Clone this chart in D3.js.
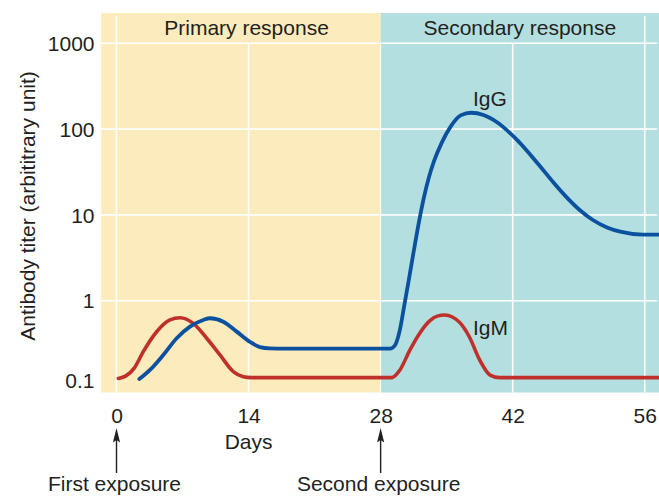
<!DOCTYPE html>
<html>
<head>
<meta charset="utf-8">
<script src="https://cdn.jsdelivr.net/npm/d3@7"></script>
<style>
  html, body { margin: 0; padding: 0; background: #ffffff; }
  svg { display: block; font-family: "Liberation Sans", Arial, Helvetica, sans-serif; }
</style>
</head>
<body>
<svg id="chart" width="659" height="496"></svg>
<script>
// Antibody titer over time: primary and secondary immune response
const dayTicks = [0, 14, 28, 42, 56];
const titerTicks = [0.1, 1, 10, 100, 1000];
const phaseLabels = ["Primary response", "Secondary response"];
const exposureLabels = ["First exposure", "Second exposure"];
const exposureDays = [0, 28];

// IgM titer (days, titer)
const igmDays  = [0.2, 1.0, 1.9, 2.84, 4.26, 5.67, 6.73, 8.14, 9.56, 10.97, 12.38, 13.44, 14.3, 21.0,
                  29.2, 30.05, 31.1, 32.2, 33.2, 34.0, 34.8, 35.6, 36.4, 37.4, 38.5, 39.6, 40.6, 49.0, 58.8];
const igmTiter = [0.124, 0.133, 0.165, 0.255, 0.435, 0.596, 0.634, 0.545, 0.365, 0.233, 0.149, 0.130, 0.127, 0.127,
                  0.127, 0.156, 0.266, 0.427, 0.582, 0.661, 0.681, 0.646, 0.555, 0.38, 0.204, 0.136, 0.127, 0.127, 0.127];

// IgG titer (days, titer)
const iggDays  = [2.42, 3.55, 4.96, 6.38, 7.79, 9.2, 9.91, 11.32, 12.74, 14.15, 15.21, 16.27, 17.0, 23.0,
                  29.0, 29.5, 30.0, 30.5, 31.0, 31.5, 32.05, 32.58, 33.1, 33.64, 34.47, 35.42, 36.48, 37.6, 38.9,
                  40.3, 42.25, 44.9, 46.3, 47.7, 49.1, 50.5, 52.0, 53.4, 55.8, 58.8];
const iggTiter = [0.122, 0.156, 0.233, 0.365, 0.498, 0.596, 0.624, 0.569, 0.436, 0.331, 0.288, 0.278, 0.277, 0.277,
                  0.277, 0.3, 0.436, 0.87, 1.78, 3.72, 8.13, 15.8, 26.9, 41.7, 69.2, 107, 144.5, 155, 146,
                  121, 79, 36.9, 24.0, 16.1, 11.4, 8.72, 7.15, 6.38, 5.9, 5.9];

const seriesNames = ["IgM", "IgG"];

const panel = { left: 101, top: 13, right: 659, bottom: 392.5 };
const textColor = "#231f20";
const fontSize = 21;

const svg = d3.select("#chart");

const x = d3.scaleLinear().domain([0, 56]).range([116.5, 644.75]);
const y = d3.scaleLog().domain([0.1, 1000]).range([386.5, 43.3]);

// Phase backgrounds
svg.append("rect")
  .attr("x", panel.left).attr("y", panel.top)
  .attr("width", x(28) - panel.left).attr("height", panel.bottom - panel.top)
  .attr("fill", "#fcebbc");
svg.append("rect")
  .attr("x", x(28)).attr("y", panel.top)
  .attr("width", panel.right - x(28)).attr("height", panel.bottom - panel.top)
  .attr("fill", "#b3dfe0");

// Grid
const grid = svg.append("g").attr("stroke", "#ffffff").attr("stroke-width", 1.6);
titerTicks.filter(t => t >= 1).forEach(t => {
  grid.append("line")
    .attr("x1", panel.left).attr("x2", panel.right - 2)
    .attr("y1", y(t)).attr("y2", y(t));
});
dayTicks.forEach(d => {
  const full = (d === 0 || d === 56);
  grid.append("line")
    .attr("x1", x(d)).attr("x2", x(d))
    .attr("y1", full ? panel.top + 3 : y(1000)).attr("y2", panel.bottom)
    .attr("stroke-width", d === 28 ? 1 : 1.6);
});

// Phase titles
svg.selectAll("text.phase")
  .data(phaseLabels)
  .join("text")
  .attr("class", "phase")
  .attr("x", (d, i) => i === 0 ? (x(0) + x(28)) / 2 - 2 : (x(28) + panel.right) / 2)
  .attr("y", 35)
  .attr("text-anchor", "middle")
  .attr("font-size", fontSize)
  .attr("fill", textColor)
  .text(d => d);

// Curves (monotone interpolation keeps the plateaus flat)
const line = d3.line()
  .x(d => x(d[0]))
  .y(d => y(d[1]))
  .curve(d3.curveMonotoneX);

const igm = igmDays.map((d, i) => [d, igmTiter[i]]);
const igg = iggDays.map((d, i) => [d, iggTiter[i]]);

svg.append("path")
  .datum(igm)
  .attr("d", line)
  .attr("fill", "none")
  .attr("stroke", "#c0302a")
  .attr("stroke-width", 3.6)
  .attr("stroke-linejoin", "round")
  .attr("stroke-linecap", "round");

svg.append("path")
  .datum(igg)
  .attr("d", line)
  .attr("fill", "none")
  .attr("stroke", "#0b519f")
  .attr("stroke-width", 3.8)
  .attr("stroke-linejoin", "round")
  .attr("stroke-linecap", "round");

// Series labels
svg.append("text")
  .attr("x", 473).attr("y", 106)
  .attr("font-size", fontSize).attr("fill", textColor)
  .text(seriesNames[1]);
svg.append("text")
  .attr("x", 473).attr("y", 335)
  .attr("font-size", fontSize).attr("fill", textColor)
  .text(seriesNames[0]);

// Y axis
const yAxis = d3.axisLeft(y)
  .tickValues(titerTicks)
  .tickFormat(d => String(d))
  .tickSize(0)
  .tickPadding(6.5);
const yg = svg.append("g")
  .attr("transform", `translate(${panel.left},0)`)
  .call(yAxis);
yg.select(".domain").remove();
yg.selectAll("text")
  .attr("font-size", fontSize)
  .attr("font-family", "Liberation Sans, Arial, sans-serif")
  .attr("fill", textColor)
  .attr("dy", d => d === 0.1 ? "0.05em" : "0.34em");

// X axis
const xAxis = d3.axisBottom(x)
  .tickValues(dayTicks)
  .tickSize(0)
  .tickPadding(15.5);
const xg = svg.append("g")
  .attr("transform", `translate(0,${panel.bottom})`)
  .call(xAxis);
xg.select(".domain").remove();
xg.selectAll("text")
  .attr("font-size", fontSize)
  .attr("font-family", "Liberation Sans, Arial, sans-serif")
  .attr("fill", textColor);

// Axis titles
svg.append("text")
  .attr("x", x(14)).attr("y", 449)
  .attr("text-anchor", "middle")
  .attr("font-size", fontSize).attr("fill", textColor)
  .text("Days");

svg.append("text")
  .attr("transform", "translate(35,206) rotate(-90)")
  .attr("text-anchor", "middle")
  .attr("font-size", fontSize).attr("fill", textColor)
  .text("Antibody titer (arbititrary unit)");

// Exposure arrows
const arrows = svg.append("g");
exposureDays.forEach((d, i) => {
  const ax = x(d);
  arrows.append("line")
    .attr("x1", ax).attr("x2", ax)
    .attr("y1", 473).attr("y2", 438)
    .attr("stroke", textColor).attr("stroke-width", 1.4);
  arrows.append("path")
    .attr("d", `M${ax},428 L${ax - 3.6},442.5 L${ax},440 L${ax + 3.6},442.5 Z`)
    .attr("fill", textColor);
  arrows.append("text")
    .attr("x", ax - 2).attr("y", 491)
    .attr("text-anchor", "middle")
    .attr("font-size", fontSize).attr("fill", textColor)
    .text(exposureLabels[i]);
});
</script>
</body>
</html>
